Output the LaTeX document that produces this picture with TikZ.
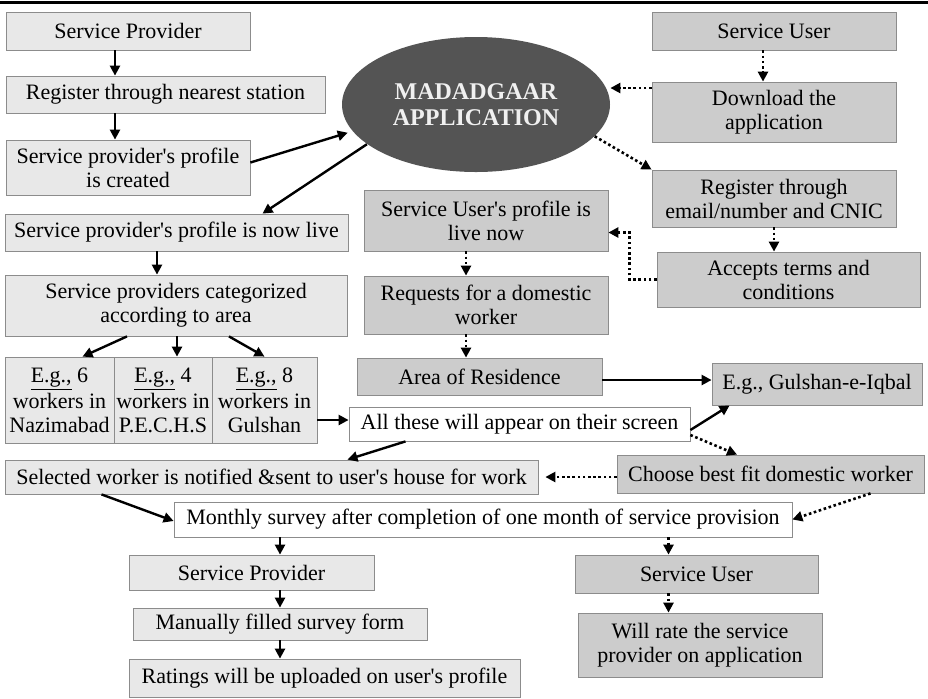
\documentclass[tikz,border=0pt]{standalone}
\usepackage{fontspec}
\setmainfont{Liberation Serif}
\usetikzlibrary{arrows.meta,shapes.geometric}
\newcommand{\apos}{\textquotesingle}

\begin{document}
\begin{tikzpicture}[x=0.5pt,y=-0.5pt,
	font=\fontsize{11}{12}\selectfont,
	provbox/.style={draw=gray!90, fill=gray!18, align=center, inner sep=0pt},
	userbox/.style={draw=gray!90, fill=gray!40, align=center, inner sep=0pt},
	plainbox/.style={draw=gray!90, fill=white, align=center, inner sep=0pt},
	arr/.style={line width=1.2pt, -{Triangle[length=5pt,width=5pt]}},
	darr/.style={line width=1.3pt, dash pattern=on 1.3pt off 1.3pt, -{Triangle[length=5pt,width=5pt]}}]
	\useasboundingbox (0,0) rectangle (928,698);
	\draw[line width=1.5pt] (0,2) -- (928,2);
%% provider side
	\node[provbox, minimum width=122pt, minimum height=19pt] (spA) at (128,31) {Service Provider};
	\node[provbox, minimum width=159.5pt, minimum height=18.5pt] (regSt) at (165.5,94.5) {Register through nearest station};
	\node[provbox, minimum width=122pt, minimum height=27.5pt] (spMade) at (128,167.5) {Service provider\apos s profile\\is created};
	\node[provbox, minimum width=171.5pt, minimum height=18.5pt] (spLive) at (176.5,232.5) {Service provider\apos s profile is now live};
	\node[provbox, minimum width=171pt, minimum height=30.5pt] (spCat) at (176,305.5) {Service providers categorized\\according to area};
	\node[provbox, minimum width=54.5pt, minimum height=43pt] (cellN) at (59.5,400) {\underline{E.g.,} 6\\workers in\\Nazimabad};
	\node[provbox, minimum width=49pt, minimum height=43pt] (cellP) at (163,400) {\underline{E.g.,} 4\\workers in\\P.E.C.H.S};
	\node[provbox, minimum width=52.5pt, minimum height=43pt] (cellG) at (264.5,400) {\underline{E.g.,} 8\\workers in\\Gulshan};
	\node[provbox, minimum width=266.5pt, minimum height=17pt] (selW) at (271.5,477) {Selected worker is notified \&sent to user\apos s house for work};
	\node[plainbox, minimum width=309pt, minimum height=17.5pt] (survey) at (483,519.5) {Monthly survey after completion of one month of service provision};
	\node[provbox, minimum width=122.5pt, minimum height=17.5pt] (spB) at (251.5,572.5) {Service Provider};
	\node[provbox, minimum width=147pt, minimum height=16pt] (manForm) at (280,624) {Manually filled survey form};
	\node[provbox, minimum width=195.5pt, minimum height=19pt] (ratings) at (324.5,678) {Ratings will be uploaded on user\apos s profile};
%% application
	\node[ellipse, fill=black!67, inner sep=0pt, minimum width=134pt, minimum height=67.5pt, align=center,
		text=white!94!black, font=\fontsize{12}{13}\selectfont\bfseries] (app) at (476,104.5) {MADADGAAR\\APPLICATION};
%% user side
	\node[userbox, minimum width=122pt, minimum height=19pt] (suA) at (774,31) {Service User};
	\node[userbox, minimum width=122pt, minimum height=30pt] (download) at (774,112) {Download the\\application};
	\node[userbox, minimum width=122pt, minimum height=28.5pt] (regU) at (774,198.5) {Register through\\email/number and CNIC};
	\node[userbox, minimum width=131.5pt, minimum height=27.5pt] (terms) at (788.5,279.5) {Accepts terms and\\conditions};
	\node[userbox, minimum width=122pt, minimum height=30.5pt] (suLive) at (486,220.5) {Service User\apos s profile is\\live now};
	\node[userbox, minimum width=122pt, minimum height=29pt] (request) at (486,305) {Requests for a domestic\\worker};
	\node[userbox, minimum width=122.5pt, minimum height=18.5pt] (area) at (479.5,376.5) {Area of Residence};
	\node[userbox, minimum width=105pt, minimum height=21pt] (gulIq) at (817,384) {E.g., Gulshan-e-Iqbal};
	\node[plainbox, minimum width=170.5pt, minimum height=17pt] (allScreen) at (519.5,424) {All these will appear on their screen};
	\node[userbox, minimum width=153.5pt, minimum height=19pt] (choose) at (770.5,474) {Choose best fit domestic worker};
	\node[userbox, minimum width=121.5pt, minimum height=19pt] (suB) at (696.5,574) {Service User};
	\node[userbox, minimum width=122pt, minimum height=32pt] (rate) at (700,645) {Will rate the service\\provider on application};
%% solid arrows
	\draw[arr] ([xshift=-6.5pt]spA.south) -- ([xshift=-6.5pt]spA.south |- regSt.north);
	\draw[arr] ([xshift=-6.5pt]spA.south |- regSt.south) -- ([xshift=-6.5pt]spA.south |- spMade.north);
	\draw[arr] ([yshift=2.5pt]spMade.east) -- ([xshift=-3pt]app.193);
	\draw[arr] (app.200) -- ([xshift=43pt]spLive.north);
	\draw[arr] ([xshift=-9.75pt]spLive.south) -- ([xshift=-9.75pt]spLive.south |- spCat.north);
	\draw[arr] ([xshift=-24.5pt]spCat.south) -- ([xshift=11.5pt]cellN.north);
	\draw[arr] ([xshift=0.5pt]spCat.south) -- ([xshift=7pt]cellP.north);
	\draw[arr] ([xshift=26.5pt]spCat.south) -- (cellG.north);
	\draw[arr] ([yshift=-10pt]cellG.east) -- ([yshift=-10pt]cellG.east -| allScreen.west);
	\draw[arr] ([xshift=-57pt]allScreen.south) -- ([xshift=38pt]selW.north);
	\draw[arr] ([xshift=-85pt]selW.south) -- ([yshift=-0.75pt]survey.west);
	\draw[arr] (survey.south -| manForm.north) -- (spB.north -| manForm.north);
	\draw[arr] (spB.south -| manForm.north) -- (manForm.north);
	\draw[arr] (manForm.south) -- (ratings.north -| manForm.south);
	\draw[arr] ([yshift=-1.75pt]area.east) -- ([yshift=-1.75pt]area.east -| gulIq.west);
	\draw[arr] ([yshift=-3pt]allScreen.east) -- ([xshift=9pt]gulIq.south west);
%% dotted arrows
	\draw[darr] ([xshift=-5.5pt]suA.south) -- ([xshift=-5.5pt]suA.south |- download.north);
	\draw[darr] ([yshift=12pt]download.west) -- ([yshift=12pt]download.west -| app.east);
	\draw[darr] (app.-15) -- (regU.north west);
	\draw[darr] (regU.south) -- (terms.north -| regU.south);
	\draw[darr] (terms.west) -- ++(-13.5pt,0) |- ([yshift=-6pt]suLive.east);
	\draw[darr] ([xshift=-10pt]suLive.south) -- ([xshift=-10pt]suLive.south |- request.north);
	\draw[darr] ([xshift=-10pt]request.south) -- ([xshift=-10pt]request.south |- area.north);
	\draw[darr] ([yshift=-5.5pt]allScreen.east) -- ([xshift=-16.75pt]choose.north);
	\draw[darr] ([yshift=-1.5pt]choose.west) -- ([yshift=-1.5pt,xshift=3.5pt]choose.west -| selW.east);
	\draw[darr] ([xshift=50pt]choose.south) -- (survey.east);
	\coordinate (suX) at ([xshift=-14pt]suB.north);
	\draw[darr] (survey.south -| suX) -- (suX);
	\draw[darr] ([xshift=-14pt]suB.south) -- ([xshift=-14pt]suB.south |- rate.north);
\end{tikzpicture}
\end{document}
